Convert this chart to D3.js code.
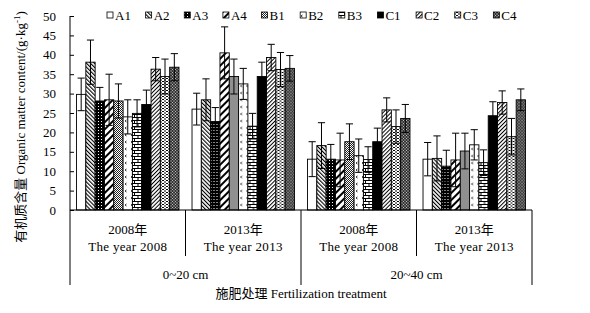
<!DOCTYPE html>
<html>
<head>
<meta charset="utf-8">
<script src="https://cdn.jsdelivr.net/npm/d3@7"></script>
<style>
  body { margin: 0; background: #fff; }
  text { font-family: "Liberation Serif", "Noto Sans CJK SC", serif; fill: #000; }
</style>
</head>
<body>
<svg width="590" height="313"></svg>
<script>
// treatments (legend order)
const series = ["A1", "A2", "A3", "A4", "B1", "B2", "B3", "C1", "C2", "C3", "C4"];
// x groups: depth x year
const groups = ["d1y2008", "d1y2013", "d2y2008", "d2y2013"];
const yearCn = ["2008年", "2013年", "2008年", "2013年"];
const yearEn = ["The year 2008", "The year 2013", "The year 2008", "The year 2013"];
const depths = ["0~20 cm", "20~40 cm"];
const yTicks = [0, 5, 10, 15, 20, 25, 30, 35, 40, 45, 50];

// organic matter means (g/kg) per group
const vals0_20_2008 = [29.8, 38.1, 28.1, 28.4, 28.1, 24.0, 24.9, 27.2, 36.3, 34.4, 36.8];
const vals0_20_2013 = [26.0, 28.4, 22.8, 40.5, 34.4, 32.5, 21.6, 34.4, 39.3, 36.2, 36.5];
const vals20_40_2008 = [13.1, 16.6, 13.1, 12.9, 17.6, 14.0, 13.0, 17.6, 25.8, 21.5, 23.6];
const vals20_40_2013 = [13.1, 13.3, 11.3, 12.9, 15.2, 16.8, 12.2, 24.3, 27.7, 18.9, 28.4];
// standard deviations
const sd0_20_2008 = [4.2, 5.7, 3.5, 6.6, 4.4, 4.4, 3.5, 3.7, 3.0, 4.5, 3.5];
const sd0_20_2013 = [4.1, 5.4, 3.6, 6.7, 4.5, 4.0, 3.3, 3.7, 3.4, 4.4, 3.3];
const sd20_40_2008 = [4.5, 5.9, 3.8, 6.9, 4.6, 4.3, 3.3, 3.5, 3.1, 4.3, 3.6];
const sd20_40_2013 = [4.3, 5.8, 4.1, 6.9, 4.6, 3.9, 3.3, 3.6, 3.0, 4.7, 2.8];

const allVals = [vals0_20_2008, vals0_20_2013, vals20_40_2008, vals20_40_2013];
const allSd = [sd0_20_2008, sd0_20_2013, sd20_40_2008, sd20_40_2013];

let plotLeft = 70, plotRight = 532, plotTop = 16, plotBottom = 210;

let svg = d3.select("svg");
svg.append("rect").attr("width", 590).attr("height", 313).attr("fill", "#fff");

const x0 = d3.scaleBand().domain(groups).range([plotLeft, plotRight]).padding(0);
const x1 = d3.scaleBand().domain(series).range([0, x0.bandwidth()]).paddingInner(0).paddingOuter(0.7);
const y = d3.scaleLinear().domain([0, 50]).range([plotBottom, plotTop]);

makePatterns();

// bars
groups.forEach((g, gi) => {
  const gEl = svg.append("g").attr("transform", `translate(${x0(g)},0)`);
  series.forEach((s, si) => {
    const v = allVals[gi][si];
    gEl.append("rect")
      .attr("x", x1(s))
      .attr("y", y(v))
      .attr("width", x1.bandwidth())
      .attr("height", y(0) - y(v))
      .attr("fill", `url(#pat-${s})`)
      .attr("stroke", "#000")
      .attr("stroke-width", 0.9);
  });
  // error bars
  series.forEach((s, si) => {
    const v = allVals[gi][si], e = allSd[gi][si];
    const cx = x1(s) + x1.bandwidth() / 2;
    const cw = 3.6;
    gEl.append("line").attr("x1", cx).attr("x2", cx)
      .attr("y1", y(v - e)).attr("y2", y(v + e))
      .attr("stroke", "#000").attr("stroke-width", 1);
    [v + e, v - e].forEach((t) => {
      gEl.append("line").attr("x1", cx - cw).attr("x2", cx + cw)
        .attr("y1", y(t)).attr("y2", y(t))
        .attr("stroke", "#000").attr("stroke-width", 1);
    });
  });
});

// y axis, ticks point inward
const yAxis = svg.append("g")
  .attr("transform", `translate(${plotLeft},0)`)
  .call(d3.axisRight(y).tickValues(yTicks).tickSize(4).tickFormat(""));
yAxis.select(".domain").remove();
yAxis.selectAll("line").attr("stroke", "#000");
svg.append("line").attr("x1", plotLeft).attr("x2", plotLeft)
  .attr("y1", y(50)).attr("y2", 285).attr("stroke", "#000");
yTicks.forEach((t) => {
  svg.append("text").attr("x", 56).attr("y", y(t)).attr("dy", "0.35em")
    .attr("text-anchor", "end").attr("font-size", "13px").text(t);
});

// x axis line + category dividers
svg.append("line").attr("x1", plotLeft).attr("x2", plotRight)
  .attr("y1", plotBottom).attr("y2", plotBottom).attr("stroke", "#000");
groups.forEach((g, gi) => {
  const right = x0(g) + x0.bandwidth();
  const long = gi % 2 === 1;
  svg.append("line").attr("x1", right).attr("x2", right)
    .attr("y1", plotBottom).attr("y2", long ? 285 : 256)
    .attr("stroke", "#000");
  const cx = x0(g) + x0.bandwidth() / 2;
  svg.append("text").attr("x", cx).attr("y", 234).attr("text-anchor", "middle")
    .attr("font-size", "13px").text(yearCn[gi]);
  svg.append("text").attr("x", cx).attr("y", 251).attr("text-anchor", "middle")
    .attr("font-size", "13px").attr("letter-spacing", "0.3px").text(yearEn[gi]);
});
depths.forEach((d, di) => {
  const cx = x0(groups[di * 2]) + x0.bandwidth();
  svg.append("text").attr("x", cx).attr("y", 279).attr("text-anchor", "middle")
    .attr("font-size", "13px").text(d);
});

// axis titles
svg.append("text").attr("x", (plotLeft + plotRight) / 2).attr("y", 298)
  .attr("text-anchor", "middle").attr("font-size", "13px")
  .text("施肥处理 Fertilization treatment");

const yTitle = svg.append("text")
  .attr("transform", "translate(25,127) rotate(-90)")
  .attr("text-anchor", "middle").attr("font-size", "13px");
yTitle.append("tspan").text("有机质含量 Organic matter content/(g·kg");
yTitle.append("tspan").attr("font-size", "9px").attr("dy", "-5").text("-1");
yTitle.append("tspan").attr("dy", "5").text(")");

// legend
const legendX = d3.scaleBand().domain(series).range([107, 532]).padding(0);
series.forEach((s) => {
  const lx = legendX(s);
  svg.append("rect").attr("x", lx).attr("y", 12).attr("width", 6).attr("height", 6)
    .attr("fill", `url(#pat-${s})`).attr("stroke", "#000").attr("stroke-width", 0.8);
  svg.append("text").attr("x", lx + 8).attr("y", 19.5).attr("font-size", "13px").text(s);
});

function makePatterns() {
  const defs = svg.append("defs");
  function pat(id, w, h, transform) {
    const p = defs.append("pattern").attr("id", "pat-" + id)
      .attr("patternUnits", "userSpaceOnUse").attr("width", w).attr("height", h);
    if (transform) p.attr("patternTransform", transform);
    return p;
  }
  // A1 plain white
  pat("A1", 4, 4).append("rect").attr("width", 4).attr("height", 4).attr("fill", "#fff");
  // A2 dense back-diagonal
  let p = pat("A2", 2.8, 4, "rotate(-45)");
  p.append("rect").attr("width", 2.8).attr("height", 4).attr("fill", "#fff");
  p.append("rect").attr("width", 1.1).attr("height", 4).attr("fill", "#000");
  // A3 black with white dots
  p = pat("A3", 3, 3);
  p.append("rect").attr("width", 3).attr("height", 3).attr("fill", "#000");
  p.append("rect").attr("x", 1).attr("y", 1).attr("width", 1).attr("height", 1).attr("fill", "#fff");
  // A4 wide forward diagonal
  p = pat("A4", 5, 5, "rotate(45)");
  p.append("rect").attr("width", 5).attr("height", 5).attr("fill", "#fff");
  p.append("rect").attr("width", 2).attr("height", 5).attr("fill", "#000");
  // B1 checker
  p = pat("B1", 2, 2);
  p.append("rect").attr("width", 2).attr("height", 2).attr("fill", "#fff");
  p.append("rect").attr("width", 1).attr("height", 1).attr("fill", "#222");
  p.append("rect").attr("x", 1).attr("y", 1).attr("width", 1).attr("height", 1).attr("fill", "#222");
  // B2 sparse small marks
  p = pat("B2", 6, 7);
  p.append("rect").attr("width", 6).attr("height", 7).attr("fill", "#fff");
  p.append("path").attr("d", "M2.5,1 L1,2 L2.5,3").attr("fill", "none").attr("stroke", "#000").attr("stroke-width", 0.8);
  // B3 bricks
  p = pat("B3", 7, 6);
  p.append("rect").attr("width", 7).attr("height", 6).attr("fill", "#fff");
  p.append("path").attr("d", "M0,0.5 H7 M0,3.5 H7 M1.5,0.5 V3.5 M5,3.5 V6.5")
    .attr("stroke", "#000").attr("stroke-width", 1);
  // C1 solid black
  pat("C1", 4, 4).append("rect").attr("width", 4).attr("height", 4).attr("fill", "#000");
  // C2 dense forward diagonal
  p = pat("C2", 2.8, 4, "rotate(45)");
  p.append("rect").attr("width", 2.8).attr("height", 4).attr("fill", "#fff");
  p.append("rect").attr("width", 1).attr("height", 4).attr("fill", "#000");
  // C3 short horizontal dashes
  p = pat("C3", 4, 3);
  p.append("rect").attr("width", 4).attr("height", 3).attr("fill", "#fff");
  p.append("rect").attr("x", 0).attr("y", 0).attr("width", 2).attr("height", 1).attr("fill", "#000");
  p.append("rect").attr("x", 2).attr("y", 1.5).attr("width", 2).attr("height", 1).attr("fill", "#000");
  // C4 dark checker with white specks
  p = pat("C4", 3, 3);
  p.append("rect").attr("width", 3).attr("height", 3).attr("fill", "#333");
  p.append("rect").attr("x", 0).attr("y", 0).attr("width", 1).attr("height", 1).attr("fill", "#bbb");
  p.append("rect").attr("x", 1.5).attr("y", 1.5).attr("width", 1).attr("height", 1).attr("fill", "#fff");
}
</script>
</body>
</html>
